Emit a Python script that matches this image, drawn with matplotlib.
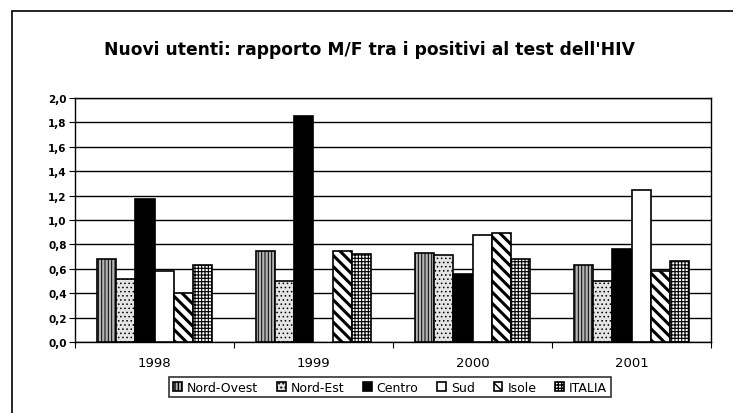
import numpy as np
import matplotlib
matplotlib.use('Agg')
from matplotlib import pyplot as plt
from matplotlib.patches import Rectangle
from matplotlib.ticker import FuncFormatter

years = ['1998', '1999', '2000', '2001']
series = ['Nord-Ovest', 'Nord-Est', 'Centro', 'Sud', 'Isole', 'ITALIA']

nord_ovest = [0.68, 0.75, 0.73, 0.63]
nord_est = [0.52, 0.50, 0.71, 0.50]
centro = [1.17, 1.85, 0.56, 0.76]
sud = [0.58, np.nan, 0.88, 1.25]
isole = [0.40, 0.75, 0.89, 0.58]
italia = [0.63, 0.72, 0.68, 0.66]

values = [nord_ovest, nord_est, centro, sud, isole, italia]

styles = [
    dict(facecolor='#b4b4b4', hatch='|||||', hlw=0.7),
    dict(facecolor='#e4e4e4', hatch='....', hlw=0.6),
    dict(facecolor='black', hatch=None, hlw=0.7),
    dict(facecolor='white', hatch=None, hlw=0.7),
    dict(facecolor='white', hatch='\\\\\\', hlw=2.2),
    dict(facecolor='white', hatch='+++++', hlw=0.8),
]

plt.rcParams['font.family'] = ['DejaVu Sans']
fig = plt.figure(figsize=(7.33, 4.14), dpi=100)

# outer chart frame
fig.patches.append(Rectangle((12 / 733, -0.2), 1.0, 1.2 - 12 / 414, transform=fig.transFigure,
                             fill=False, edgecolor='black', linewidth=1.2))

ax = fig.add_axes([75 / 733, 1 - 343 / 414, 636 / 733, 244 / 414])

x = np.arange(len(years))
w = 0.12
for i, (vals, st) in enumerate(zip(values, styles)):
    pos = x + (i - 2.5) * w
    with plt.rc_context({'hatch.linewidth': st['hlw']}):
        ax.bar(pos, vals, w, facecolor=st['facecolor'], hatch=st['hatch'],
               edgecolor='black', linewidth=1.2, label=series[i], zorder=3)

ax.set_xlim(-0.5, len(years) - 0.5)
ax.set_ylim(0, 2.0)
ax.set_yticks(np.arange(0, 2.01, 0.2))
ax.yaxis.set_major_formatter(FuncFormatter(lambda v, p: ('%.1f' % v).replace('.', ',')))
ax.yaxis.grid(True, color='black', linewidth=1.0)
ax.set_axisbelow(True)

ax.set_xticks(np.arange(-0.5, len(years), 1.0))
ax.set_xticklabels([])
ax.set_xticks(x, minor=True)
ax.set_xticklabels(years, minor=True)
ax.tick_params(axis='x', which='minor', length=0, pad=10, labelsize=9.5)
ax.tick_params(axis='x', which='major', length=4, direction='out')
ax.tick_params(axis='y', length=4, direction='out', labelsize=7.5, pad=2)
for lab in ax.get_yticklabels():
    lab.set_fontweight('bold')
for s in ax.spines.values():
    s.set_linewidth(1.0)

fig.text(369 / 733, 1 - 50 / 414, "Nuovi utenti: rapporto M/F tra i positivi al test dell'HIV",
         ha='center', va='center', fontsize=12.3, fontweight='bold')

leg = fig.legend(loc='center', bbox_to_anchor=(390 / 733, 1 - 388 / 414), ncol=6,
                 fontsize=9, frameon=True, fancybox=False, edgecolor='black',
                 handlelength=0.7, handleheight=0.7, handletextpad=0.4,
                 columnspacing=1.5, borderpad=0.3)
leg.get_frame().set_linewidth(1.2)

fig.savefig('out.png', dpi=100)
